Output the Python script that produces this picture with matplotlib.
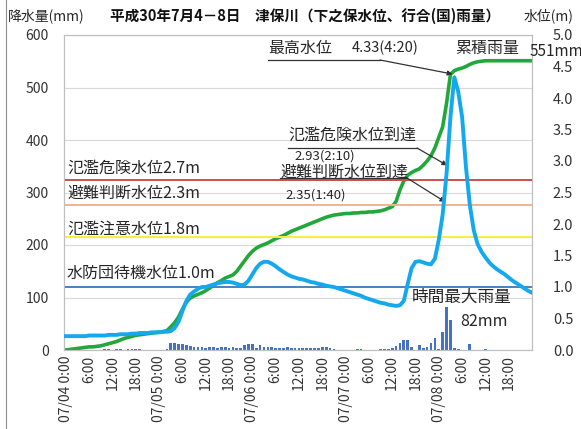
import numpy as np
import matplotlib
matplotlib.use("Agg")
import matplotlib.pyplot as plt
from matplotlib.lines import Line2D

plt.rcParams['font.family'] = ['Noto Sans CJK JP', 'DejaVu Sans']

# ---------------- data ----------------
hours = list(range(121))  # hours since 07/04 0:00
rain_hourly = [
    0, 0, 0, 0, 0, 0,
    0, 0, 0, 0, 1, 2,
    0, 2, 1, 0, 2, 1,
    2, 1, 0, 0, 0, 0,
    0, 0, 2, 14, 13, 12,
    12, 10, 8, 6, 5, 6,
    4, 5, 5, 4, 5, 5,
    4, 6, 4, 4, 9, 11,
    11, 4, 10, 6, 5, 5,
    4, 4, 4, 5, 4, 4,
    4, 4, 3, 4, 3, 3,
    5, 5, 3, 2, 0, 0,
    0, 0, 0, 1, 1, 0,
    0, 0, 0, 1, 1, 1,
    3, 8, 14, 20, 20, 6,
    0, 10, 3, 5, 13, 22,
    2, 35, 82, 57, 3, 1,
    0, 0, 11, 0, 0, 0,
    1, 0, 0, 0, 0, 0,
    0, 0, 0, 0, 0, 0,
    0]
rain_cum = [
    0, 1, 2, 3, 4, 5,
    6, 6, 7, 8, 10, 12,
    14, 16, 19, 22, 24, 26,
    28, 29, 30, 31, 32, 33,
    34, 35, 37, 44, 52, 63,
    78, 91, 99, 103, 106, 109,
    113, 118, 123, 128, 132, 137,
    140, 143, 150, 160, 170, 180,
    188, 194, 198, 201, 204, 208,
    212, 215, 218, 222, 226, 229,
    232, 235, 238, 241, 244, 247,
    250, 253, 255, 257, 258, 259,
    260, 260, 261, 261, 262, 262,
    263, 263, 264, 265, 267, 270,
    273, 283, 305, 322, 333, 338,
    342, 345, 352, 360, 370, 385,
    405, 425, 470, 525, 532, 535,
    537, 540, 544, 547, 549, 550,
    551, 551, 551, 551, 551, 551,
    551, 551, 551, 551, 551, 551,
    551]
water = [
    0.22, 0.22, 0.22, 0.22, 0.22, 0.22,
    0.23, 0.23, 0.23, 0.23, 0.23, 0.24,
    0.24, 0.24, 0.25, 0.25, 0.25, 0.26,
    0.26, 0.27, 0.27, 0.27, 0.28, 0.28,
    0.28, 0.29, 0.29, 0.30, 0.35, 0.45,
    0.62, 0.78, 0.88, 0.93, 0.97, 1.00,
    1.00, 1.02, 1.04, 1.06, 1.07, 1.08,
    1.08, 1.07, 1.05, 1.03, 1.04, 1.10,
    1.20, 1.30, 1.37, 1.40, 1.40, 1.37,
    1.33, 1.28, 1.24, 1.20, 1.17, 1.15,
    1.13, 1.12, 1.10, 1.08, 1.07, 1.05,
    1.04, 1.02, 1.01, 1.00, 0.98, 0.96,
    0.94, 0.92, 0.90, 0.88, 0.86, 0.83,
    0.81, 0.79, 0.77, 0.75, 0.74, 0.72,
    0.71, 0.70, 0.71, 0.78, 1.05, 1.30,
    1.40, 1.41, 1.39, 1.37, 1.36, 1.45,
    1.75, 2.15, 2.80, 3.70, 4.33, 4.10,
    3.70, 2.90, 2.30, 1.90, 1.68, 1.56,
    1.47, 1.39, 1.33, 1.28, 1.24, 1.20,
    1.15, 1.10, 1.06, 1.02, 0.98, 0.94,
    0.91]

tick_hours = list(range(0, 120, 6))
tick_labels = ['07/04 0:00', '6:00', '12:00', '18:00',
               '07/05 0:00', '6:00', '12:00', '18:00',
               '07/06 0:00', '6:00', '12:00', '18:00',
               '07/07 0:00', '6:00', '12:00', '18:00',
               '07/08 0:00', '6:00', '12:00', '18:00']

level_values = [2.7, 2.3, 1.8, 1.0]
level_names = ['氾濫危険水位2.7m', '避難判断水位2.3m', '氾濫注意水位1.8m', '水防団待機水位1.0m']
level_colors = ['#c9504b', '#f2b38f', '#f5f03a', '#4a82bd']

peak_hour, peak_level = 100.33, 4.33
danger_hour, danger_level = 98.17, 2.93
evac_hour, evac_level = 97.67, 2.35

W, H = 581, 429


def fx(x):
    return x / W


def fy(y):
    return 1 - y / H


fig = plt.figure(figsize=(W / 100, H / 100), dpi=100)
ax = fig.add_axes([fx(64), fy(350), (532 - 64) / W, (350 - 35) / H])
ax2 = ax.twinx()

ax.bar(hours, rain_hourly, width=0.7, color='#4472c4', zorder=2)
ax.plot(hours, rain_cum, color='#22a83a', lw=2.6, zorder=3, solid_joinstyle='round')
ax.set_xlim(-0.5, 120)
ax.set_ylim(0, 600)
ax.set_yticks(range(0, 601, 100))
ax.grid(axis='y', color='#d9d9d9', lw=0.8)
ax.set_axisbelow(True)
ax.set_xticks(tick_hours)
ax.set_xticklabels(tick_labels, rotation=90, fontsize=10, color='#333333')
ax.tick_params(axis='x', length=0, pad=4)
ax.tick_params(axis='y', length=0, pad=11, labelsize=10, labelcolor='#333333')

for v, c in zip(level_values, level_colors):
    ax2.axhline(v, color=c, lw=1.4, zorder=1)
ax2.plot(hours, water, color='#14a9ef', lw=2.8, zorder=4, solid_joinstyle='round')
ax2.set_ylim(0, 5)
ax2.set_yticks(np.arange(0, 5.01, 0.5))
ax2.set_yticklabels([f'{v:.1f}' for v in np.arange(0, 5.01, 0.5)])
ax2.tick_params(axis='y', length=0, pad=15, labelsize=10.5, labelcolor='#333333')

for a in (ax, ax2):
    for s in a.spines.values():
        s.set_color('#bfbfbf')
        s.set_linewidth(0.8)

# level labels
for name, y in zip(level_names, [168, 193, 229, 273]):
    fig.text(fx(67), fy(y), name, fontsize=11.5, va='center', ha='left', color='#262626')

# header texts
fig.text(fx(305), fy(16), '平成30年7月4－8日　津保川（下之保水位、行合(国)雨量）',
         fontsize=10.5, fontweight='bold', ha='center', va='center', color='#111111')
fig.text(fx(8), fy(16), '降水量(mm)', fontsize=10, ha='left', va='center', color='#262626')
fig.text(fx(524), fy(16), '水位(m)', fontsize=10, ha='left', va='center', color='#262626')

# annotations
txtc = '#262626'
fig.text(fx(268), fy(48), '最高水位', fontsize=11.5, ha='left', va='center', color=txtc)
fig.text(fx(352), fy(48), f'{peak_level:.2f}(4:20)', fontsize=10.5, ha='left', va='center', color=txtc)
fig.text(fx(455), fy(48), '累積雨量', fontsize=11.5, ha='left', va='center', color=txtc)
fig.text(fx(530), fy(51), f'{rain_cum[-1]}mm', fontsize=11, ha='left', va='center', color=txtc)

fig.text(fx(288), fy(135), '氾濫危険水位到達', fontsize=11.5, ha='left', va='center', color=txtc)
fig.text(fx(294), fy(156), f'{danger_level:.2f}(2:10)', fontsize=9.5, ha='left', va='center', color=txtc)
fig.text(fx(280), fy(172), '避難判断水位到達', fontsize=11.5, ha='left', va='center', color=txtc)
fig.text(fx(285), fy(195), f'{evac_level:.2f}(1:40)', fontsize=9.5, ha='left', va='center', color=txtc)

fig.text(fx(412), fy(297), '時間最大雨量', fontsize=12, ha='left', va='center', color=txtc)
fig.text(fx(460), fy(321), f'{max(rain_hourly)}mm', fontsize=11.5, ha='left', va='center', color=txtc)

lc = '#333333'
for (x0, x1, y) in [(268, 380, 60), (288, 417, 148), (280, 407, 178)]:
    fig.add_artist(Line2D([fx(x0), fx(x1)], [fy(y), fy(y)], color=lc, lw=0.9,
                          transform=fig.transFigure))

arrow = dict(arrowstyle='-|>', color=lc, lw=0.9, mutation_scale=7, shrinkA=0, shrinkB=0)
ax2.annotate('', xy=(peak_hour - 0.8, peak_level + 0.05), xytext=(fx(380), fy(60)),
             textcoords='figure fraction', arrowprops=arrow)
ax2.annotate('', xy=(danger_hour, danger_level), xytext=(fx(417), fy(148)),
             textcoords='figure fraction', arrowprops=arrow)
ax2.annotate('', xy=(evac_hour, evac_level), xytext=(fx(407), fy(178)),
             textcoords='figure fraction', arrowprops=arrow)

# outer chart border (left edge)
fig.add_artist(Line2D([fx(6), fx(6)], [0, 1], color='#8c8c8c', lw=0.8, transform=fig.transFigure))

fig.savefig('out.png', dpi=100)
